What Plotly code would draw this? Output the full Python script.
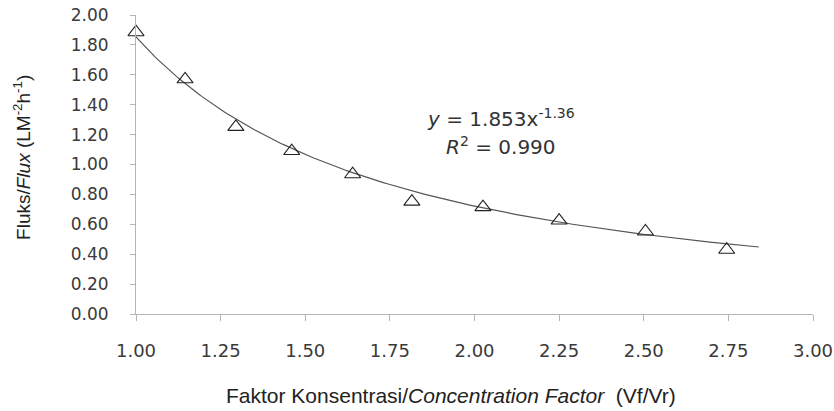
import numpy as np
import plotly.graph_objects as go

# Data
concentration_factor = [1.00, 1.145, 1.295, 1.46, 1.64, 1.815, 2.025, 2.25, 2.505, 2.745]
flux = [1.885, 1.57, 1.252, 1.09, 0.935, 0.752, 0.715, 0.625, 0.552, 0.43]

# Power trendline shown in the chart: y = a * x^b
fit_a = 1.853
fit_b = -1.36
fit_x_start = 1.0
fit_x_end = 2.84

x_ticks = [1.00, 1.25, 1.50, 1.75, 2.00, 2.25, 2.50, 2.75, 3.00]
y_ticks = [0.0, 0.2, 0.4, 0.6, 0.8, 1.0, 1.2, 1.4, 1.6, 1.8, 2.0]

fit_x = np.linspace(fit_x_start, fit_x_end, 200)
fit_y = fit_a * fit_x ** fit_b

fig = go.Figure()
fig.add_trace(go.Scatter(
    x=fit_x, y=fit_y, mode="lines",
    line=dict(color="#555555", width=1.2),
    hoverinfo="skip", showlegend=False, cliponaxis=False,
))
fig.add_trace(go.Scatter(
    x=concentration_factor, y=flux, mode="markers",
    marker=dict(symbol="triangle-up-open", size=14, color="#222222",
                line=dict(width=1.1, color="#222222")),
    showlegend=False, cliponaxis=False,
))

tick_font = dict(family="DejaVu Sans, Verdana, sans-serif", color="#3a3a3a")

fig.update_layout(
    width=834, height=411,
    margin=dict(l=136, r=21.3, t=14.5, b=96.5, autoexpand=False),
    paper_bgcolor="white", plot_bgcolor="white",
    xaxis=dict(
        range=[1.0, 3.0], tickvals=x_ticks, tickformat=".2f",
        showgrid=False, zeroline=False, automargin=False,
        showline=True, linecolor="#b5b5b5", linewidth=1,
        ticks="outside", ticklen=6, tickcolor="#b5b5b5",
        tickfont=dict(size=18, **tick_font),
        ticklabelstandoff=14, ticklabeloverflow="allow",
    ),
    yaxis=dict(
        range=[0.0, 2.0], tickvals=y_ticks, tickformat=".2f",
        showgrid=False, zeroline=False, automargin=False,
        showline=True, linecolor="#b5b5b5", linewidth=1,
        ticks="outside", ticklen=5, tickcolor="#b5b5b5",
        tickfont=dict(size=17, **tick_font),
        ticklabelstandoff=18, ticklabeloverflow="allow",
    ),
    annotations=[
        dict(text="Fluks/<i>Flux</i> (LM<sup>-2</sup>h<sup>-1</sup>)",
             xref="paper", yref="paper", x=-0.1685, y=0.525,
             xanchor="center", yanchor="middle", textangle=-90, showarrow=False,
             font=dict(family="Liberation Sans, Arial, sans-serif", size=19, color="#222222")),
        dict(text="Faktor Konsentrasi/<i>Concentration Factor</i>  (Vf/Vr)",
             xref="paper", yref="paper", x=0.4655, y=-0.272,
             xanchor="center", yanchor="middle", showarrow=False,
             font=dict(family="Liberation Sans, Arial, sans-serif", size=21, color="#222222")),
        dict(text="<i>y</i> = 1.853x<sup>-1.36</sup>",
             xref="paper", yref="paper", x=0.539, y=0.655,
             xanchor="center", yanchor="middle", showarrow=False,
             font=dict(family="DejaVu Sans, Verdana, sans-serif", size=20, color="#333333")),
        dict(text="<i>R</i><sup>2</sup> = 0.990",
             xref="paper", yref="paper", x=0.539, y=0.562,
             xanchor="center", yanchor="middle", showarrow=False,
             font=dict(family="DejaVu Sans, Verdana, sans-serif", size=20, color="#333333")),
    ],
)

# remove the browser's default 8px body margin so the figure fills the window
fig.write_html(
    "out.html",
    config={"displayModeBar": False},
    post_script="document.body.style.margin='0';document.body.style.overflow='hidden';",
)
